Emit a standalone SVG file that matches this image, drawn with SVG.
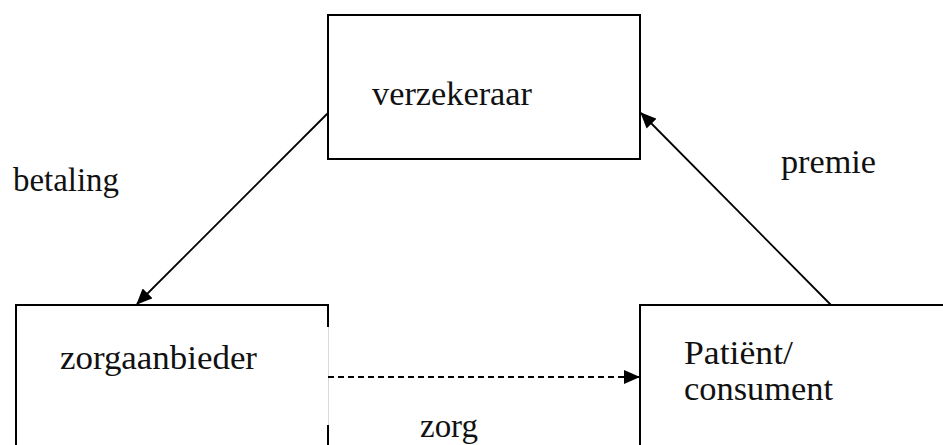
<svg xmlns="http://www.w3.org/2000/svg" width="943" height="445" viewBox="0 0 943 445">
<style>
  .box { fill: none; stroke: #000; stroke-width: 2; }
  .thin { fill: none; stroke: #d9d9d9; stroke-width: 1; }
  .lbl { font-family: "Liberation Serif", "Times New Roman", serif; font-size: 33px; fill: #111; }
  .edge { fill: none; stroke: #000; stroke-width: 1.8; }
  .dash { stroke-dasharray: 6 4; }
</style>
<defs>
  <marker id="arr" viewBox="0 0 16 14" refX="15" refY="7" markerWidth="16" markerHeight="14" markerUnits="userSpaceOnUse" orient="auto">
    <path d="M0,0 L16,7 L0,14 Z" fill="#000"/>
  </marker>
</defs>
<rect width="943" height="445" fill="#fff"/>

<g id="verzekeraar">
  <rect class="box" x="328" y="15" width="312" height="144"/>
  <text class="lbl" x="372" y="105" textLength="160" lengthAdjust="spacingAndGlyphs">verzekeraar</text>
</g>

<g id="zorgaanbieder">
  <path class="box" d="M328,327 V305 H16 V450"/>
  <path class="box" d="M328,425 V450"/>
  <path class="thin" d="M328.5,327 V425"/>
  <text class="lbl" x="60" y="369" textLength="197" lengthAdjust="spacingAndGlyphs">zorgaanbieder</text>
</g>

<g id="patient">
  <path class="box" d="M640,450 V305 H950"/>
  <text class="lbl" x="684" y="364" textLength="109" lengthAdjust="spacingAndGlyphs">Patiënt/</text>
  <text class="lbl" x="684" y="400" textLength="149" lengthAdjust="spacingAndGlyphs">consument</text>
</g>

<g id="connectors">
  <line class="edge" x1="328" y1="113" x2="137" y2="304" marker-end="url(#arr)"/>
  <line class="edge" x1="831" y1="305" x2="641" y2="113" marker-end="url(#arr)"/>
  <line class="edge dash" x1="328" y1="377" x2="639" y2="377" marker-end="url(#arr)"/>
  <text class="lbl" x="13" y="191" textLength="106" lengthAdjust="spacingAndGlyphs">betaling</text>
  <text class="lbl" x="781" y="173" textLength="95" lengthAdjust="spacingAndGlyphs">premie</text>
  <text class="lbl" x="420" y="437" textLength="58" lengthAdjust="spacingAndGlyphs">zorg</text>
</g>
</svg>
